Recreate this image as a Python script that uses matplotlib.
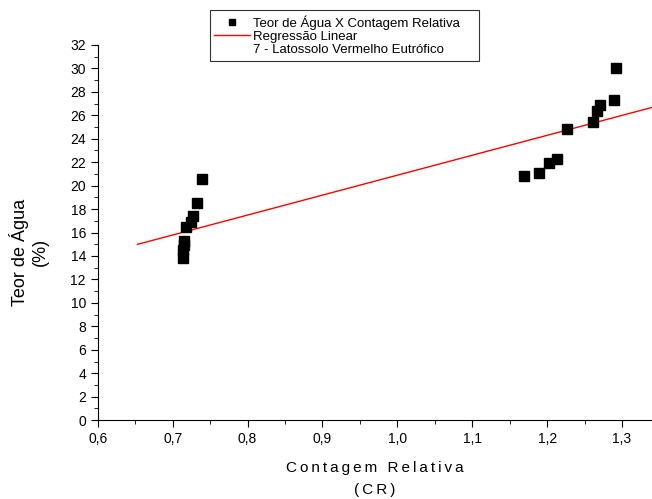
import matplotlib
matplotlib.use("Agg")
import matplotlib.pyplot as plt
from matplotlib.ticker import MultipleLocator, FuncFormatter
import numpy as np

plt.rcParams['font.family'] = ['Liberation Sans', 'DejaVu Sans']

## contagem relativa (CR) x teor de agua (%)
cr = [0.7135, 0.714, 0.7145, 0.7155, 0.7175, 0.724, 0.7268, 0.732, 0.739,
      1.169, 1.189, 1.203, 1.213, 1.226, 1.261, 1.266, 1.270, 1.289, 1.2916]
teor = [13.8, 14.5, 14.9, 15.3, 16.5, 16.9, 17.4, 18.5, 20.6,
        20.8, 21.05, 21.95, 22.3, 24.85, 25.4, 26.4, 26.9, 27.3, 30.0]

## regressao linear
reg_a = 3.89
reg_b = 17.0
reg_x = [0.653, 1.34]


def spaced(s, sep='\u2009'):
    return sep.join(s)


fig = plt.figure(figsize=(6.52, 4.99), dpi=100)
ax = fig.add_axes([0.150, 0.158, 0.850, 0.752])

xr = np.array(reg_x)
l2, = ax.plot(xr, reg_a + reg_b * xr, color='red', lw=1.0)
l1, = ax.plot(cr, teor, 's', color='black', ms=7, ls='none')
l3, = ax.plot([], [], color='none')

ax.set_xlim(0.6, 1.34)
ax.set_ylim(0, 32)
ax.xaxis.set_major_locator(MultipleLocator(0.1))
ax.xaxis.set_minor_locator(MultipleLocator(0.05))
ax.yaxis.set_major_locator(MultipleLocator(2))
ax.yaxis.set_minor_locator(MultipleLocator(1))
ax.xaxis.set_major_formatter(FuncFormatter(lambda v, p: ('%.1f' % v).replace('.', ',')))
ax.yaxis.set_major_formatter(FuncFormatter(lambda v, p: '%d' % round(v)))
ax.tick_params(which='major', direction='out', length=5, labelsize=10)
ax.tick_params(which='minor', direction='out', length=3)
for s in ['top', 'right']:
    ax.spines[s].set_visible(False)

ax.set_xlabel(spaced('Contagem Relativa') + '\n' + spaced('(CR)'),
              fontsize=11, linespacing=1.75, labelpad=11)
ax.set_ylabel('Teor de Água\n(%)', fontsize=13, linespacing=1.2)
ax.yaxis.set_label_coords(-0.088, 0.448)

leg = ax.legend([l1, l2, l3],
                ['Teor de Água X Contagem Relativa    ', 'Regressão Linear',
                 '7 - Latossolo Vermelho Eutrófico'],
                loc='upper left', bbox_to_anchor=(0.202, 1.092), fontsize=9.5,
                frameon=True, fancybox=False, edgecolor='black',
                handlelength=2.7, borderpad=0.35, labelspacing=0.08,
                handletextpad=0.2, borderaxespad=0, markerscale=0.7)
leg.get_frame().set_linewidth(0.8)

fig.savefig('out.png', dpi=100)
